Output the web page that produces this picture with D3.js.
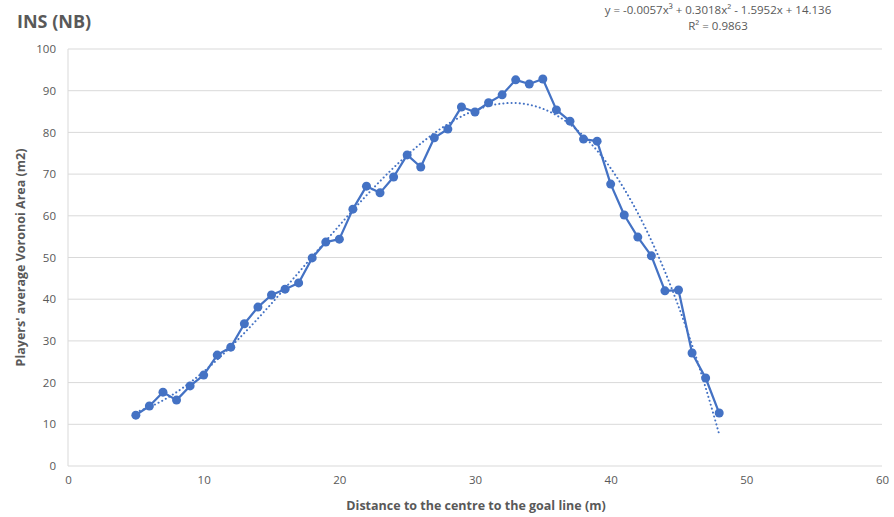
<!DOCTYPE html>
<html><head><meta charset="utf-8">
<script src="https://cdn.jsdelivr.net/npm/d3@7"></script>
<style>
body{margin:0;background:#fff;}
text{font-family:"Open Sans",sans-serif;}
</style></head>
<body><svg id="c" width="894" height="517"></svg>
<script>
const distances = [5,6,7,8,9,10,11,12,13,14,15,16,17,18,19,20,21,22,23,24,25,26,27,28,29,30,31,32,33,34,35,36,37,38,39,40,41,42,43,44,45,46,47,48];
const areas = [12.2,14.4,17.7,15.8,19.2,21.8,26.6,28.5,34.1,38.1,41.0,42.4,43.9,49.9,53.7,54.4,61.6,67.1,65.5,69.3,74.6,71.7,78.7,80.8,86.1,84.9,87.1,89.0,92.6,91.6,92.8,85.4,82.7,78.4,77.9,67.6,60.2,54.9,50.4,42.0,42.2,27.1,21.1,12.7];
const xTicks = [0,10,20,30,40,50,60];
const yTicks = [0,10,20,30,40,50,60,70,80,90,100];
const title = "INS (NB)";
const equation = "y = -0.0057x³ + 0.3018x² - 1.5952x + 14.136";
const r2Label = "R² = 0.9863";

const svg = d3.select("#c");
const x = d3.scaleLinear().domain([0,60]).range([68,882]);
const y = d3.scaleLinear().domain([0,100]).range([466,49]);
const grey = "#595959", gridC = "#d9d9d9", blue = "#4472C4";

// grid
svg.append("g").selectAll("line").data(yTicks).join("line")
  .attr("x1",x(0)).attr("x2",x(60)).attr("y1",d=>y(d)).attr("y2",d=>y(d))
  .attr("stroke",gridC).attr("stroke-width",1);
svg.append("line").attr("x1",x(0)).attr("x2",x(0)).attr("y1",y(0)).attr("y2",y(100)).attr("stroke",gridC);

// axes
const ax = svg.append("g").attr("transform",`translate(0,${y(0)})`)
  .call(d3.axisBottom(x).tickValues(xTicks).tickSize(0).tickPadding(10));
ax.select(".domain").remove();
ax.selectAll("text").attr("fill",grey).style("font-size","11.5px").attr("font-family",null);
const ay = svg.append("g").attr("transform",`translate(${x(0)},0)`)
  .call(d3.axisLeft(y).tickValues(yTicks).tickSize(0).tickPadding(12));
ay.select(".domain").remove();
ay.selectAll("text").attr("fill",grey).style("font-size","11.5px").attr("font-family",null);

// cubic least squares fit (trendline)
function polyfit(xs, ys, deg){
  const n=deg+1, A=[...Array(n)].map(()=>Array(n+1).fill(0));
  for(let i=0;i<xs.length;i++){
    for(let r=0;r<n;r++){
      for(let c=0;c<n;c++) A[r][c]+=Math.pow(xs[i],r+c);
      A[r][n]+=ys[i]*Math.pow(xs[i],r);
    }
  }
  for(let i=0;i<n;i++){
    let m=i; for(let k=i+1;k<n;k++) if(Math.abs(A[k][i])>Math.abs(A[m][i])) m=k;
    [A[i],A[m]]=[A[m],A[i]];
    for(let k=i+1;k<n;k++){const f=A[k][i]/A[i][i]; for(let j=i;j<=n;j++) A[k][j]-=f*A[i][j];}
  }
  const c=Array(n).fill(0);
  for(let i=n-1;i>=0;i--){let s=A[i][n]; for(let j=i+1;j<n;j++) s-=A[i][j]*c[j]; c[i]=s/A[i][i];}
  return c;
}
const coef = polyfit(distances, areas, 3);
const fx = t => coef[0]+coef[1]*t+coef[2]*t*t+coef[3]*t*t*t;
const trend = d3.range(distances[0], distances[distances.length-1]+0.001, 0.25).map(t=>[t,fx(t)]);
svg.append("path").datum(trend)
  .attr("d", d3.line().x(d=>x(d[0])).y(d=>y(d[1])))
  .attr("fill","none").attr("stroke",blue).attr("stroke-width",2)
  .attr("stroke-dasharray","0.1,4").attr("stroke-linecap","round");

// series
const pts = distances.map((d,i)=>[d,areas[i]]);
svg.append("path").datum(pts)
  .attr("d", d3.line().x(d=>x(d[0])).y(d=>y(d[1])))
  .attr("fill","none").attr("stroke",blue).attr("stroke-width",2.25).attr("stroke-linejoin","round");
svg.append("g").selectAll("circle").data(pts).join("circle")
  .attr("cx",d=>x(d[0])).attr("cy",d=>y(d[1])).attr("r",4.5).attr("fill",blue);

// texts
svg.append("text").attr("x",17).attr("y",28).text(title)
  .attr("fill",grey).style("font-size","18px").style("font-weight","bold");
svg.append("text").attr("x",718).attr("y",14).attr("text-anchor","middle").text(equation)
  .attr("fill",grey).style("font-size","11.5px");
svg.append("text").attr("x",718).attr("y",30).attr("text-anchor","middle").text(r2Label)
  .attr("fill",grey).style("font-size","11.5px");
svg.append("text").attr("x",476).attr("y",510).attr("text-anchor","middle")
  .text("Distance to the centre to the goal line (m)").attr("fill",grey)
  .style("font-size","12.5px").style("font-weight","bold");
svg.append("text").attr("transform",`translate(25,${(y(0)+y(100))/2}) rotate(-90)`).attr("text-anchor","middle")
  .text("Players' average Voronoi Area (m2)").attr("fill",grey)
  .style("font-size","12.5px").style("font-weight","bold");
</script></body></html>
